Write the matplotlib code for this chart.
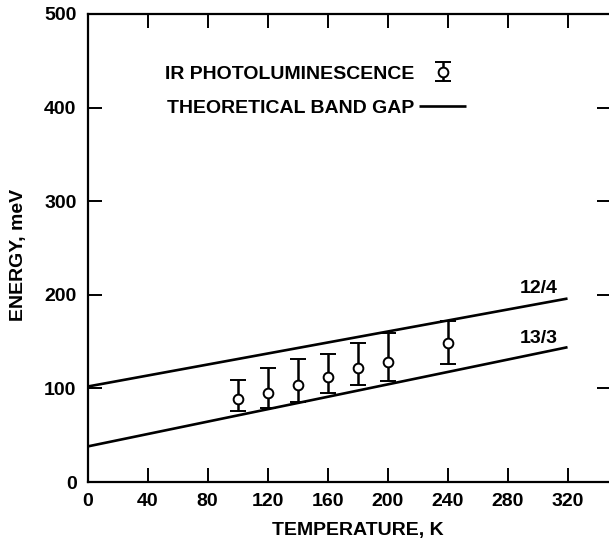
import numpy as np
import matplotlib
matplotlib.use("Agg")
from matplotlib import pyplot as plt

# measured IR photoluminescence peaks
temp_k = [100, 120, 140, 160, 180, 200, 240]
energy_mev = [89, 95, 104, 112, 122, 128, 148]
err_low = [76, 79, 85, 95, 104, 108, 126]
err_high = [109, 122, 131, 137, 149, 159, 172]

# theoretical band gap lines (end points at 0 K and 320 K)
line_temp = [0, 320]
gap_12_4 = [102, 196]
gap_13_3 = [38, 144]

xticks = [0, 40, 80, 120, 160, 200, 240, 280, 320]
yticks = [0, 100, 200, 300, 400, 500]

plt.rcParams['font.family'] = ['Liberation Sans', 'DejaVu Sans']
plt.rcParams['font.weight'] = 'bold'
fs = 14

fig = plt.figure(figsize=(6.09, 5.42), dpi=100)
ax = fig.add_axes([0.144, 0.1107, 0.8593, 0.8635])

ax.plot(line_temp, gap_12_4, color='black', lw=1.9, solid_capstyle='butt',
        label='THEORETICAL BAND GAP')
ax.plot(line_temp, gap_13_3, color='black', lw=1.9, solid_capstyle='butt')

e = np.array(energy_mev)
yerr = [e - np.array(err_low), np.array(err_high) - e]
eb = ax.errorbar(temp_k, energy_mev, yerr=yerr, fmt='o', color='black',
                 mfc='white', mec='black', ms=7, mew=1.4,
                 elinewidth=1.8, capsize=5.5, capthick=1.8,
                 label='IR PHOTOLUMINESCENCE')

ax.text(301, 207, '12/4', fontsize=fs, ha='center', va='center')
ax.text(301, 153, '13/3', fontsize=fs, ha='center', va='center')

ax.set_xlim(0, 349)
ax.set_ylim(0, 500)
ax.set_xticks(xticks)
ax.set_yticks(yticks)
ax.tick_params(direction='in', length=10, width=1.4, top=True, right=True,
               labelsize=fs, pad=8)
for s in ax.spines.values():
    s.set_linewidth(1.6)

ax.text(0.516, -0.103, 'TEMPERATURE, K', transform=ax.transAxes,
        fontsize=fs, ha='center', va='center')
ax.text(-0.133, 0.485, 'ENERGY, meV', transform=ax.transAxes,
        fontsize=fs, ha='center', va='center', rotation=90)

handles = [eb, ax.lines[0]]
ax.legend(handles, [h.get_label() for h in handles], markerfirst=False,
          frameon=False, loc='upper left', bbox_to_anchor=(0.148, 0.893),
          borderpad=0, borderaxespad=0, handlelength=2.4, handletextpad=0.25,
          handleheight=1.0, labelspacing=0.75, fontsize=fs)

fig.savefig('out.png', dpi=100)
